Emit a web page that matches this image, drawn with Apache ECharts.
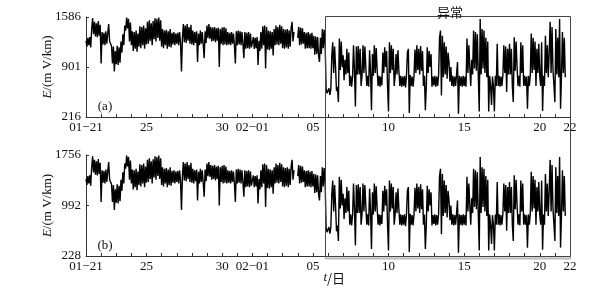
<!DOCTYPE html>
<html><head><meta charset="utf-8">
<script src="https://cdn.jsdelivr.net/npm/echarts@6/dist/echarts.min.js"></script>
<style>html,body{margin:0;padding:0;background:#fff}#c{width:590px;height:293px}</style>
</head><body><div id="c"></div>
<script>
// x axis: days since 01-21 00:00
const xLabelDays = [0, 4, 9, 11, 15, 20, 25, 30, 32];
const xLabelText = ['01\u221221', '25', '30', '02\u221201', '05', '10', '15', '20', '22'];
const yTicksA = [216, 901, 1586];
const yTicksB = [228, 992, 1756];

// Panel (a): 1.5-hourly samples, day 0 .. 15.9375 (16 per day)
const preA = [
 1260,1180,1300,1200,1310,1170,1420,1570,1350,1520,1320,1500,1310,1530,1330,1480,
 950,1380,1210,1370,1200,1390,1220,1360,1490,1250,1220,1190,950,1180,840,1120,
 940,1190,930,1170,960,1250,1100,1350,1200,1470,1400,1580,1430,1560,1250,1510,
 1200,1390,1120,1380,1150,1400,1110,1360,1180,1460,1160,1450,1200,1470,1150,1430,
 1210,1520,1220,1540,1260,1500,1200,1530,1280,1570,1250,1560,1300,1580,1260,1540,
 1180,1420,1160,1400,1200,1410,1150,1390,1180,1420,1170,1370,1210,1380,1200,1360,
 1220,1370,1200,1380,1230,840,1300,1490,1240,1470,1230,1490,1260,1450,1220,1480,
 1210,1400,1200,1380,1230,1390,970,1360,1200,1400,1220,1380,1210,1020,1390,1230,
 1470,1300,1490,1290,1450,1250,1440,1260,1450,1240,1430,1260,1440,900,1420,1220,
 1440,1200,1450,1210,1430,1200,1380,1210,1370,1200,1380,1220,1360,1200,950,1390,
 1200,1400,1210,1390,1200,1380,1220,1020,1380,1150,1370,1160,1380,1150,1360,1170,
 1160,1310,1150,1300,1160,1310,930,1260,1120,1380,1150,1460,1200,1470,880,1450,
 1140,1400,1130,1390,1150,1380,1060,1420,1200,1470,1210,1450,1200,1480,1220,1460,
 1160,1420,1150,1410,1170,1420,1150,1400,1180,1430,1520,1250,1380,null,null,null,
 1300,1450,1200,1440,1210,1430,1220,1380,1150,1370,1160,1380,1160,1360,1150,1370,
 1160,1330,1070,1320,1080,1310,1060,970,1300,1080,1420,1160,1410,1200,600,540
];
// Panel (a): 1.5-hourly samples from day 16 (anomaly period)
const anomA = [
 530,610,520,600,1050,1240,820,1180,900,570,630,420,1290,860,1250,900,
 1060,720,1000,800,1150,820,1100,640,780,630,770,1200,850,360,1180,800,
 1190,800,1150,640,780,1200,820,1180,900,640,780,630,1130,820,310,1080,
 780,1200,820,1160,860,640,780,630,770,650,1100,820,1170,900,1120,640,
 290,1240,820,1200,860,1150,640,780,1080,800,1130,850,640,780,630,770,
 640,780,620,770,1100,1150,270,790,640,770,630,780,1140,820,1200,860,
 1150,800,1190,850,1120,640,780,310,640,1170,820,1120,900,1080,630,770,
 650,780,630,770,640,790,1300,1400,510,1330,760,1240,800,1180,740,1100,
 970,700,900,640,780,630,770,640,800,970,260,780,640,770,630,780,
 640,770,630,1290,820,1200,900,640,1000,800,1400,880,1380,850,1350,780,
 290,1560,800,1420,880,1400,820,1300,760,1250,290,780,640,380,770,640,
 290,780,640,1220,640,780,630,770,640,790,1200,820,1180,560,1150,800,
 1220,800,1150,640,420,1310,850,1250,900,640,780,630,1240,820,1200,640,
 780,640,770,330,780,640,790,1360,820,1300,860,1250,640,1150,820,1220,
 780,640,1240,300,780,640,1330,820,1200,760,1100,1520,820,1450,860,650,
 420,1420,800,1300,760,1560,330,780,1380,820,1300,760
];
// Panel (b)
const preB = [
 1392,1303,1437,1325,1448,1292,1571,1738,1493,1682,1459,1660,1448,1693,1470,1638,
 1047,1526,1336,1515,1325,1537,1348,1504,1649,1381,1348,1314,1047,1303,924,1236,
 1036,1314,1024,1292,1058,1381,1214,1493,1325,1627,1548,1749,1582,1727,1381,1671,
 1325,1537,1236,1526,1270,1548,1225,1504,1303,1615,1281,1604,1325,1627,1270,1582,
 1336,1682,1348,1705,1392,1660,1325,1693,1415,1738,1381,1727,1437,1749,1392,1705,
 1303,1571,1281,1548,1325,1560,1270,1537,1303,1571,1292,1515,1336,1526,1325,1504,
 1348,1515,1325,1526,1359,924,1437,1649,1370,1627,1359,1649,1392,1604,1348,1638,
 1336,1548,1325,1526,1359,1537,1069,1504,1325,1548,1348,1526,1336,1125,1537,1359,
 1627,1437,1649,1426,1604,1381,1593,1392,1604,1370,1582,1392,1593,991,1571,1348,
 1593,1325,1604,1336,1582,1325,1526,1336,1515,1325,1526,1348,1504,1325,1047,1537,
 1325,1548,1336,1537,1325,1526,1348,1125,1526,1270,1515,1281,1526,1270,1504,1292,
 1281,1448,1270,1437,1281,1448,1024,1392,1236,1526,1270,1615,1325,1627,969,1604,
 1259,1548,1247,1537,1270,1526,1169,1571,1325,1627,1336,1604,1325,1638,1348,1615,
 1281,1571,1270,1560,1292,1571,1270,1548,1303,1582,1682,1381,1526,null,null,null,
 1437,1604,1325,1593,1336,1582,1348,1526,1270,1515,1281,1526,1281,1504,1270,1515,
 1281,1470,1180,1459,1192,1448,1169,1069,1437,1192,1571,1281,1560,1325,656,589
];
const anomB = [
 578,667,567,656,1158,1370,902,1303,991,601,690,456,1426,946,1381,991,
 1169,790,1102,879,1270,902,1214,701,857,690,846,1325,935,389,1303,879,
 1314,879,1270,701,857,1325,902,1303,991,701,857,690,1247,902,333,1192,
 857,1325,902,1281,946,701,857,690,846,712,1214,902,1292,991,1236,701,
 311,1370,902,1325,946,1270,701,857,1192,879,1247,935,701,857,690,846,
 701,857,679,846,1214,1270,288,868,701,846,690,857,1259,902,1325,946,
 1270,879,1314,935,1236,701,857,333,701,1292,902,1236,991,1192,690,846,
 712,857,690,846,701,868,1437,1548,556,1470,835,1370,879,1303,812,1214,
 1069,768,991,701,857,690,846,701,879,1069,277,857,701,846,690,857,
 701,846,690,1426,902,1325,991,701,1102,879,1548,969,1526,935,1493,857,
 311,1727,879,1571,969,1548,902,1437,835,1381,311,857,701,411,846,701,
 311,857,701,1348,701,857,690,846,701,868,1325,902,1303,612,1270,879,
 1348,879,1270,701,456,1448,935,1381,991,701,857,690,1370,902,1325,701,
 857,701,846,355,857,701,868,1504,902,1437,946,1381,701,1270,902,1348,
 857,701,1370,322,857,701,1470,902,1325,835,1214,1682,902,1604,946,712,
 456,1571,879,1437,835,1727,355,857,1526,902,1437,835
];

function build(pre, anom) {
  const out = [];
  pre.forEach((v, i) => out.push([i / 16, v == null ? '-' : v]));
  anom.forEach((v, i) => out.push([16 + i / 16, v == null ? '-' : v]));
  return out;
}
const tickDays = [];
for (let d = 0; d <= 32; d++) tickDays.push(d);

const FONT = '"Liberation Serif", "DejaVu Serif", serif';

function xAxis(g) {
  return {
    type: 'value', gridIndex: g, min: 0, max: 32,
    axisLine: { show: true, lineStyle: { color: '#333', width: 1 } },
    axisTick: { show: true, inside: true, length: 3, customValues: tickDays, lineStyle: { color: '#333' } },
    axisLabel: {
      customValues: xLabelDays,
      formatter: v => { const k = xLabelDays.indexOf(Math.round(v)); return k >= 0 ? xLabelText[k] : ''; },
      fontFamily: FONT, fontSize: 13, color: '#111', margin: 4
    },
    splitLine: { show: false }
  };
}
function yAxis(g, ticks) {
  return {
    type: 'value', gridIndex: g, min: ticks[0], max: ticks[2],
    name: '{i|E}/(m V/km)', nameLocation: 'middle', nameGap: 32, nameMoveOverlap: false,
    nameTextStyle: { fontFamily: FONT, fontSize: 13, color: '#111', rich: { i: { fontStyle: 'italic', fontFamily: FONT, fontSize: 13, color: '#111' } } },
    axisLine: { show: true, lineStyle: { color: '#333', width: 1 } },
    axisTick: { show: true, inside: true, length: 3, customValues: ticks, lineStyle: { color: '#333' } },
    axisLabel: { customValues: ticks, formatter: v => String(Math.round(v)), fontFamily: FONT, fontSize: 13, color: '#111', margin: 5 },
    splitLine: { show: false }
  };
}

const chart = echarts.init(document.getElementById('c'), null, { renderer: 'canvas' });
chart.setOption({
  animation: false,
  backgroundColor: '#fff',
  grid: [
    { left: 86, right: 20, top: 17, height: 100 },
    { left: 86, right: 20, top: 155, height: 101 }
  ],
  xAxis: [xAxis(0), xAxis(1)],
  yAxis: [yAxis(0, yTicksA), yAxis(1, yTicksB)],
  series: [
    { type: 'line', xAxisIndex: 0, yAxisIndex: 0, data: build(preA, anomA), showSymbol: false, symbol: 'none',
      lineStyle: { color: '#000', width: 1.4 }, connectNulls: false, sampling: null },
    { type: 'line', xAxisIndex: 1, yAxisIndex: 1, data: build(preB, anomB), showSymbol: false, symbol: 'none',
      lineStyle: { color: '#000', width: 1.4 }, connectNulls: false, sampling: null }
  ],
  graphic: [
    { type: 'rect', shape: { x: 325.5, y: 16.5, width: 245, height: 240 }, style: { fill: 'none', stroke: '#444', lineWidth: 1 }, z: 100 },
    { type: 'rect', shape: { x: 325.5, y: 256.5, width: 245, height: 2.5 }, style: { fill: '#d4d4d4', stroke: '#888', lineWidth: 0.6 }, z: 99 },
    { type: 'text', x: 450, y: 12, style: { text: '异常', font: '13px "Noto Sans CJK SC"', fill: '#111', textAlign: 'center', textVerticalAlign: 'middle' }, z: 100 },
    { type: 'text', x: 105, y: 107, style: { text: '(a)', font: '13px ' + FONT, fill: '#111', textAlign: 'center', textVerticalAlign: 'middle' }, z: 100 },
    { type: 'text', x: 105, y: 246, style: { text: '(b)', font: '13px ' + FONT, fill: '#111', textAlign: 'center', textVerticalAlign: 'middle' }, z: 100 },
    { type: 'text', x: 327, y: 278, style: { text: 't', font: 'italic 13px ' + FONT, fill: '#111', textAlign: 'right', textVerticalAlign: 'middle' }, z: 100 },
    { type: 'text', x: 327, y: 278, style: { text: '/日', font: '13px "Noto Sans CJK SC"', fill: '#111', textAlign: 'left', textVerticalAlign: 'middle' }, z: 100 }
  ]
});
</script></body></html>
